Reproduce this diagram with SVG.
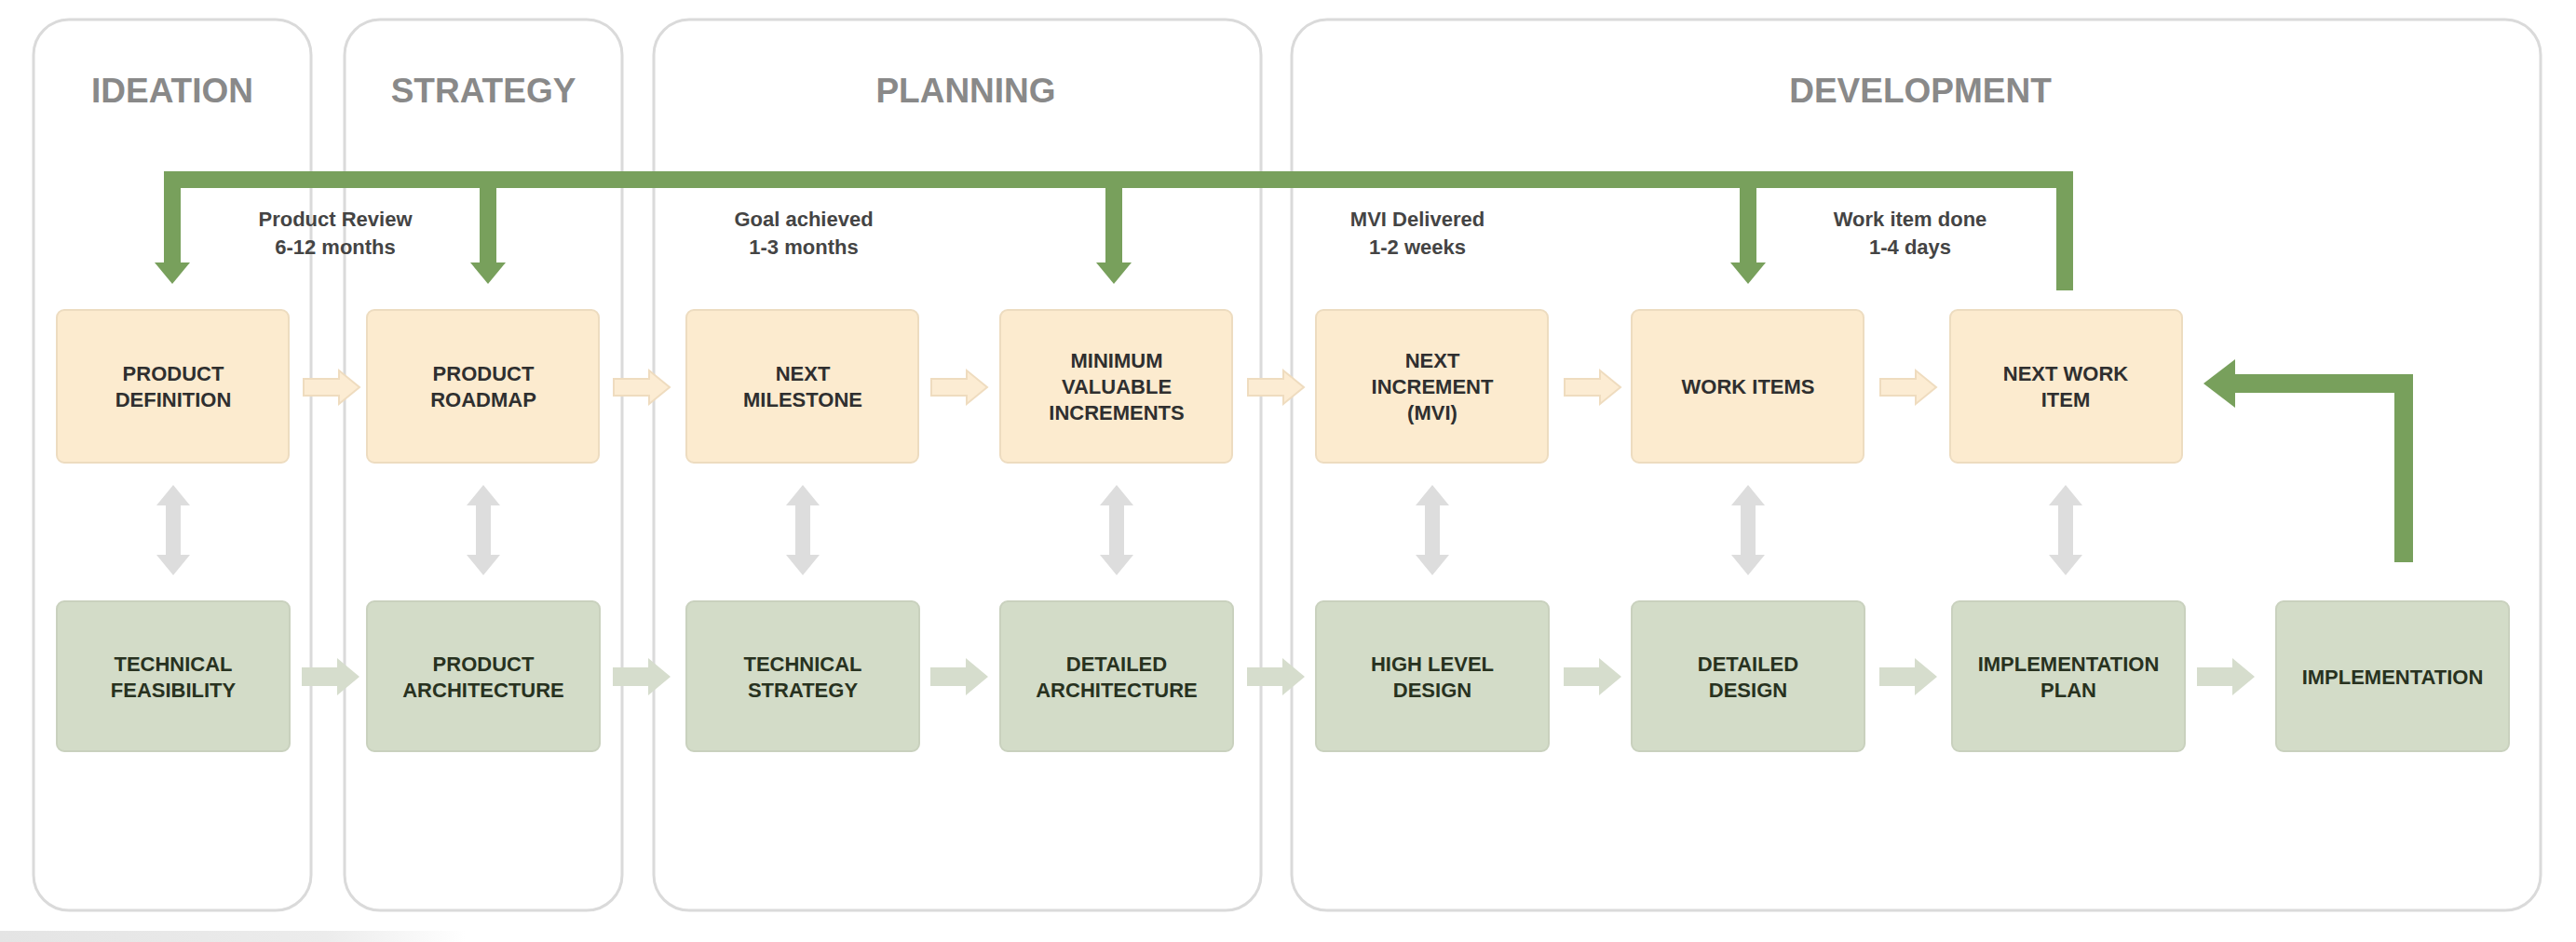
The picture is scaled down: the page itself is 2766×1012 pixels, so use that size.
<svg xmlns="http://www.w3.org/2000/svg" width="2766" height="1012" viewBox="0 0 2766 1012">
<style>
.lane{fill:#ffffff;stroke:#dadada;stroke-width:3}
.title{font-family:"Liberation Sans",Arial,sans-serif;font-weight:bold;font-size:37px;fill:#898989;text-anchor:middle}
.top{fill:#fcebcf;stroke:#eddcc0;stroke-width:2}
.bot{fill:#d3dcc8;stroke:#c9d1be;stroke-width:2}
.lbl{font-family:"Liberation Sans",Arial,sans-serif;font-weight:bold;font-size:22px;text-anchor:middle}
.lt{fill:#2f2f2f}
.lb{fill:#28321f}
.note{font-family:"Liberation Sans",Arial,sans-serif;font-weight:bold;font-size:22px;fill:#444;text-anchor:middle}
.green{fill:none;stroke:#78a05c;stroke-width:18;stroke-linejoin:miter}
.ghead{fill:#78a05c}
.barrow{fill:#fcecd3;stroke:#efdcbf;stroke-width:2}
.garrow{fill:#d6ddcd}
.darrow{fill:#dddddd}
</style>
<defs>
<path id="ta" d="M0,-9 H38 V-18 L60,0 L38,18 V9 H0 Z"/>
<path id="ba" d="M0,-10 H38 V-20 L62,0 L38,20 V10 H0 Z"/>
<path id="da" d="M0,0 L18,22 H8 V75 H18 L0,97 L-18,75 H-8 V22 H-18 Z"/>
<linearGradient id="band" x1="0" y1="0" x2="1" y2="0">
<stop offset="0" stop-color="#e4e4e4"/>
<stop offset="0.7" stop-color="#ececec"/>
<stop offset="1" stop-color="#ffffff"/>
</linearGradient>
</defs>
<rect x="0" y="0" width="2766" height="1012" fill="#ffffff"/>
<rect x="0" y="1000" width="500" height="12" fill="url(#band)"/>

<g id="lanes">
<g id="lane-ideation"><rect class="lane" x="36" y="21" width="298" height="957" rx="38"/><text class="title" x="185" y="110">IDEATION</text></g>
<g id="lane-strategy"><rect class="lane" x="370" y="21" width="298" height="957" rx="38"/><text class="title" x="519" y="110">STRATEGY</text></g>
<g id="lane-planning"><rect class="lane" x="702" y="21" width="652" height="957" rx="38"/><text class="title" x="1037" y="110">PLANNING</text></g>
<g id="lane-development"><rect class="lane" x="1387" y="21" width="1341" height="957" rx="38"/><text class="title" x="2062" y="110">DEVELOPMENT</text></g>
</g>

<g id="connectors">
<!-- top row beige arrows -->
<use href="#ta" class="barrow" x="326" y="416"/>
<use href="#ta" class="barrow" x="659" y="416"/>
<use href="#ta" class="barrow" x="1000" y="416"/>
<use href="#ta" class="barrow" x="1340" y="416"/>
<use href="#ta" class="barrow" x="1680" y="416"/>
<use href="#ta" class="barrow" x="2019" y="416"/>
<!-- bottom row arrows -->
<use href="#ba" class="garrow" x="324" y="727"/>
<use href="#ba" class="garrow" x="658" y="727"/>
<use href="#ba" class="garrow" x="999" y="727"/>
<use href="#ba" class="garrow" x="1339" y="727"/>
<use href="#ba" class="garrow" x="1679" y="727"/>
<use href="#ba" class="garrow" x="2018" y="727"/>
<use href="#ba" class="garrow" x="2359" y="727"/>
<!-- vertical double arrows -->
<use href="#da" class="darrow" x="186" y="521"/>
<use href="#da" class="darrow" x="519" y="521"/>
<use href="#da" class="darrow" x="862" y="521"/>
<use href="#da" class="darrow" x="1199" y="521"/>
<use href="#da" class="darrow" x="1538" y="521"/>
<use href="#da" class="darrow" x="1877" y="521"/>
<use href="#da" class="darrow" x="2218" y="521"/>
<!-- green feedback loop -->
<path class="green" d="M2217,312 V193 H185 V284"/>
<polygon class="ghead" points="166,282 204,282 185,305"/>
<path class="green" d="M524,193 V284"/>
<polygon class="ghead" points="505,282 543,282 524,305"/>
<path class="green" d="M1196,193 V284"/>
<polygon class="ghead" points="1177,282 1215,282 1196,305"/>
<path class="green" d="M1877,193 V284"/>
<polygon class="ghead" points="1858,282 1896,282 1877,305"/>
<path class="green" d="M2581,604 V412 H2398" style="stroke-width:20"/>
<polygon class="ghead" points="2400,386 2400,438 2366,412"/>
</g>

<g id="notes">
<text class="note" x="360" y="243">Product Review</text>
<text class="note" x="360" y="273">6-12 months</text>
<text class="note" x="863" y="243">Goal achieved</text>
<text class="note" x="863" y="273">1-3 months</text>
<text class="note" x="1522" y="243">MVI Delivered</text>
<text class="note" x="1522" y="273">1-2 weeks</text>
<text class="note" x="2051" y="243">Work item done</text>
<text class="note" x="2051" y="273">1-4 days</text>
</g>

<g id="n-product-definition"><rect class="top" x="61" y="333" width="249" height="164" rx="8"/><text class="lbl lt" x="186" y="409">PRODUCT</text><text class="lbl lt" x="186" y="437">DEFINITION</text></g>
<g id="n-product-roadmap"><rect class="top" x="394" y="333" width="249" height="164" rx="8"/><text class="lbl lt" x="519" y="409">PRODUCT</text><text class="lbl lt" x="519" y="437">ROADMAP</text></g>
<g id="n-next-milestone"><rect class="top" x="737" y="333" width="249" height="164" rx="8"/><text class="lbl lt" x="862" y="409">NEXT</text><text class="lbl lt" x="862" y="437">MILESTONE</text></g>
<g id="n-mvi"><rect class="top" x="1074" y="333" width="249" height="164" rx="8"/><text class="lbl lt" x="1199" y="395">MINIMUM</text><text class="lbl lt" x="1199" y="423">VALUABLE</text><text class="lbl lt" x="1199" y="451">INCREMENTS</text></g>
<g id="n-next-increment"><rect class="top" x="1413" y="333" width="249" height="164" rx="8"/><text class="lbl lt" x="1538" y="395">NEXT</text><text class="lbl lt" x="1538" y="423">INCREMENT</text><text class="lbl lt" x="1538" y="451">(MVI)</text></g>
<g id="n-work-items"><rect class="top" x="1752" y="333" width="249" height="164" rx="8"/><text class="lbl lt" x="1877" y="423">WORK ITEMS</text></g>
<g id="n-next-work-item"><rect class="top" x="2094" y="333" width="249" height="164" rx="8"/><text class="lbl lt" x="2218" y="409">NEXT WORK</text><text class="lbl lt" x="2218" y="437">ITEM</text></g>

<g id="n-technical-feasibility"><rect class="bot" x="61" y="646" width="250" height="161" rx="8"/><text class="lbl lb" x="186" y="721">TECHNICAL</text><text class="lbl lb" x="186" y="749">FEASIBILITY</text></g>
<g id="n-product-architecture"><rect class="bot" x="394" y="646" width="250" height="161" rx="8"/><text class="lbl lb" x="519" y="721">PRODUCT</text><text class="lbl lb" x="519" y="749">ARCHITECTURE</text></g>
<g id="n-technical-strategy"><rect class="bot" x="737" y="646" width="250" height="161" rx="8"/><text class="lbl lb" x="862" y="721">TECHNICAL</text><text class="lbl lb" x="862" y="749">STRATEGY</text></g>
<g id="n-detailed-architecture"><rect class="bot" x="1074" y="646" width="250" height="161" rx="8"/><text class="lbl lb" x="1199" y="721">DETAILED</text><text class="lbl lb" x="1199" y="749">ARCHITECTURE</text></g>
<g id="n-high-level-design"><rect class="bot" x="1413" y="646" width="250" height="161" rx="8"/><text class="lbl lb" x="1538" y="721">HIGH LEVEL</text><text class="lbl lb" x="1538" y="749">DESIGN</text></g>
<g id="n-detailed-design"><rect class="bot" x="1752" y="646" width="250" height="161" rx="8"/><text class="lbl lb" x="1877" y="721">DETAILED</text><text class="lbl lb" x="1877" y="749">DESIGN</text></g>
<g id="n-implementation-plan"><rect class="bot" x="2096" y="646" width="250" height="161" rx="8"/><text class="lbl lb" x="2221" y="721">IMPLEMENTATION</text><text class="lbl lb" x="2221" y="749">PLAN</text></g>
<g id="n-implementation"><rect class="bot" x="2444" y="646" width="250" height="161" rx="8"/><text class="lbl lb" x="2569" y="735">IMPLEMENTATION</text></g>
</svg>
